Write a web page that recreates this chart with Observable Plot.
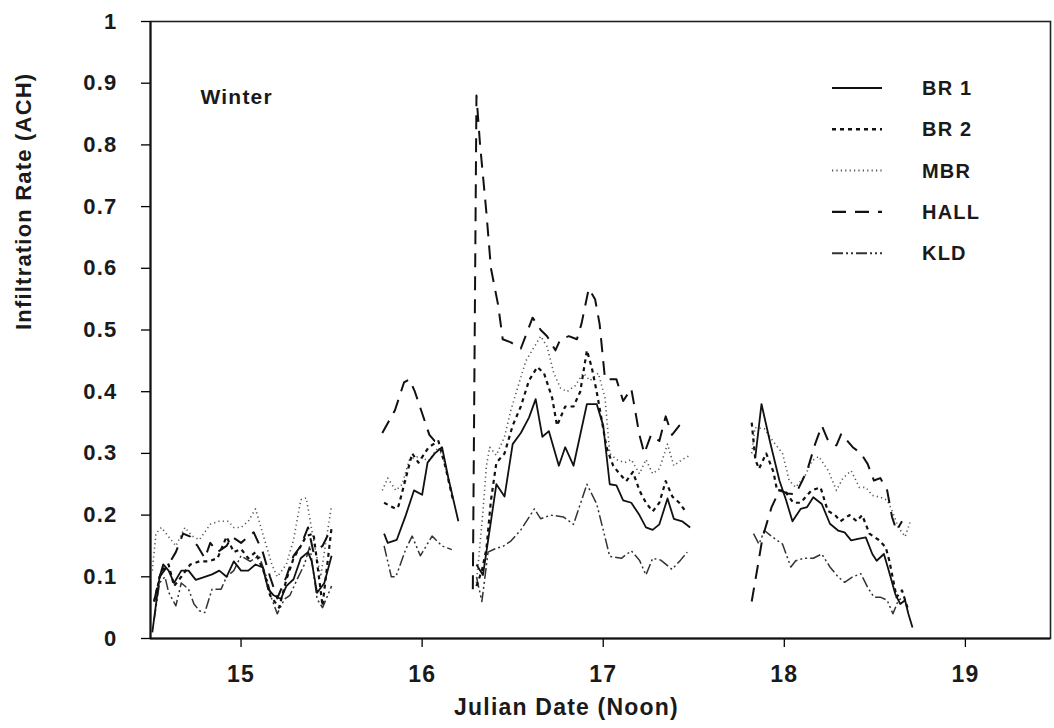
<!DOCTYPE html>
<html>
<head>
<meta charset="utf-8">
<script src="https://cdn.jsdelivr.net/npm/d3@7"></script>
<script src="https://cdn.jsdelivr.net/npm/@observablehq/plot@0.6"></script>
<style>
  html, body { margin: 0; padding: 0; background: #fff; }
  #chart svg { display: block; }
  #chart svg text { font-family: "Liberation Sans", Arial, Helvetica, sans-serif; font-weight: bold; fill: #1a1a1a; }
</style>
</head>
<body>
<div id="chart"></div>
<script>
// ---- data: [Julian date, infiltration rate (ACH)], segments separated by gaps ----
const BR1 = [
  [[14.51,0.01],[14.55,0.10],[14.57,0.12],[14.60,0.11],[14.63,0.09],[14.67,0.11],[14.71,0.11],[14.75,0.095],[14.80,0.10],[14.84,0.104],[14.88,0.11],[14.92,0.10],[14.96,0.125],[15.00,0.11],[15.04,0.11],[15.08,0.12],[15.12,0.115],[15.15,0.08],[15.18,0.07],[15.22,0.064],[15.25,0.085],[15.29,0.096],[15.33,0.13],[15.37,0.14],[15.39,0.125],[15.42,0.074],[15.46,0.09],[15.50,0.134]],
  [[15.79,0.17],[15.81,0.155],[15.86,0.16],[15.91,0.20],[15.955,0.24],[16.00,0.233],[16.03,0.285],[16.07,0.30],[16.11,0.31],[16.145,0.26],[16.20,0.19]],
  [[16.30,0.12],[16.31,0.115],[16.336,0.103],[16.373,0.176],[16.41,0.25],[16.455,0.23],[16.50,0.315],[16.545,0.333],[16.59,0.358],[16.627,0.388],[16.664,0.327],[16.70,0.336],[16.755,0.28],[16.79,0.31],[16.836,0.28],[16.91,0.38],[16.964,0.38],[17.00,0.345],[17.036,0.25],[17.073,0.248],[17.11,0.224],[17.155,0.22],[17.20,0.20],[17.236,0.18],[17.273,0.176],[17.31,0.185],[17.355,0.227],[17.39,0.194],[17.436,0.19],[17.48,0.18]],
  [[17.84,0.294],[17.874,0.38],[17.92,0.32],[17.973,0.256],[18.01,0.224],[18.045,0.19],[18.09,0.21],[18.126,0.213],[18.16,0.229],[18.207,0.218],[18.252,0.186],[18.297,0.175],[18.333,0.172],[18.369,0.159],[18.414,0.162],[18.45,0.164],[18.486,0.137],[18.51,0.126],[18.55,0.137],[18.577,0.11],[18.613,0.072],[18.64,0.056],[18.667,0.062],[18.685,0.04],[18.708,0.018]]
];
const BR2 = [
  [[14.52,0.06],[14.56,0.11],[14.60,0.12],[14.63,0.085],[14.67,0.10],[14.72,0.12],[14.77,0.125],[14.82,0.125],[14.87,0.13],[14.92,0.165],[14.96,0.14],[15.00,0.145],[15.04,0.13],[15.08,0.14],[15.13,0.105],[15.16,0.07],[15.21,0.05],[15.25,0.095],[15.29,0.13],[15.33,0.15],[15.36,0.166],[15.40,0.17],[15.43,0.10],[15.45,0.053],[15.50,0.18]],
  [[15.79,0.22],[15.855,0.21],[15.87,0.215],[15.91,0.26],[15.945,0.30],[15.98,0.285],[16.036,0.31],[16.09,0.32],[16.127,0.28],[16.17,0.225]],
  [[16.30,0.085],[16.33,0.11],[16.355,0.145],[16.38,0.224],[16.41,0.285],[16.455,0.30],[16.50,0.345],[16.545,0.376],[16.59,0.418],[16.636,0.44],[16.673,0.43],[16.718,0.39],[16.745,0.345],[16.79,0.376],[16.836,0.376],[16.873,0.40],[16.91,0.467],[16.936,0.44],[16.964,0.40],[16.99,0.357],[17.018,0.31],[17.055,0.28],[17.09,0.267],[17.127,0.255],[17.164,0.27],[17.20,0.24],[17.236,0.22],[17.273,0.206],[17.31,0.22],[17.345,0.255],[17.382,0.23],[17.42,0.22],[17.455,0.206]],
  [[17.82,0.35],[17.84,0.29],[17.86,0.275],[17.90,0.30],[17.94,0.27],[17.96,0.24],[18.00,0.24],[18.05,0.22],[18.09,0.22],[18.15,0.24],[18.20,0.245],[18.24,0.207],[18.28,0.20],[18.31,0.19],[18.36,0.20],[18.40,0.19],[18.43,0.20],[18.47,0.17],[18.52,0.16],[18.56,0.148],[18.58,0.126],[18.62,0.067],[18.65,0.078],[18.68,0.05]]
];
const MBR = [
  [[14.51,0.11],[14.53,0.17],[14.56,0.18],[14.60,0.165],[14.64,0.15],[14.69,0.18],[14.73,0.166],[14.77,0.16],[14.83,0.185],[14.88,0.19],[14.93,0.19],[14.96,0.18],[15.00,0.18],[15.04,0.19],[15.08,0.21],[15.13,0.16],[15.17,0.12],[15.20,0.10],[15.25,0.12],[15.29,0.16],[15.33,0.225],[15.36,0.228],[15.40,0.16],[15.44,0.10],[15.47,0.16],[15.50,0.215]],
  [[15.78,0.24],[15.81,0.26],[15.855,0.24],[15.89,0.25],[15.93,0.29],[15.98,0.295],[16.036,0.288],[16.09,0.31],[16.118,0.29],[16.164,0.236]],
  [[16.30,0.09],[16.336,0.206],[16.355,0.28],[16.373,0.31],[16.41,0.297],[16.455,0.327],[16.49,0.37],[16.527,0.406],[16.573,0.45],[16.62,0.473],[16.655,0.49],[16.69,0.473],[16.727,0.43],[16.764,0.406],[16.80,0.40],[16.846,0.41],[16.89,0.43],[16.927,0.418],[16.973,0.43],[17.01,0.39],[17.036,0.30],[17.073,0.29],[17.118,0.285],[17.155,0.29],[17.20,0.267],[17.236,0.29],[17.273,0.267],[17.31,0.275],[17.355,0.315],[17.39,0.28],[17.436,0.29],[17.48,0.297]],
  [[17.82,0.30],[17.838,0.342],[17.89,0.34],[17.937,0.32],[17.99,0.30],[18.027,0.256],[18.063,0.245],[18.117,0.265],[18.153,0.288],[18.19,0.295],[18.243,0.272],[18.288,0.24],[18.324,0.26],[18.369,0.272],[18.414,0.245],[18.45,0.245],[18.486,0.232],[18.53,0.229],[18.568,0.224],[18.595,0.207],[18.63,0.18],[18.667,0.165],[18.694,0.188]]
];
const HALL = [
  [[14.52,0.06],[14.55,0.10],[14.60,0.12],[14.64,0.14],[14.68,0.17],[14.72,0.165],[14.76,0.15],[14.80,0.13],[14.83,0.155],[14.87,0.14],[14.92,0.15],[14.95,0.165],[15.00,0.155],[15.04,0.165],[15.07,0.172],[15.12,0.14],[15.16,0.10],[15.20,0.065],[15.25,0.10],[15.29,0.134],[15.33,0.15],[15.37,0.18],[15.40,0.14],[15.45,0.15],[15.50,0.18]],
  [[15.78,0.333],[15.85,0.37],[15.90,0.415],[15.93,0.42],[15.96,0.40],[16.04,0.33],[16.07,0.32],[16.10,0.32]],
  [[16.28,0.08],[16.30,0.88],[16.31,0.84],[16.32,0.80],[16.336,0.75],[16.355,0.69],[16.38,0.60],[16.42,0.54],[16.445,0.485],[16.49,0.48],[16.545,0.47],[16.61,0.52],[16.655,0.50],[16.69,0.49],[16.736,0.467],[16.764,0.485],[16.81,0.49],[16.855,0.485],[16.88,0.51],[16.92,0.567],[16.955,0.55],[16.98,0.51],[17.01,0.42],[17.073,0.42],[17.11,0.385],[17.155,0.405],[17.20,0.33],[17.227,0.30],[17.264,0.33],[17.31,0.32],[17.345,0.36],[17.38,0.33],[17.42,0.345],[17.47,0.34]],
  [[17.82,0.06],[17.855,0.12],[17.88,0.164],[17.93,0.213],[17.973,0.24],[18.02,0.235],[18.063,0.234],[18.126,0.272],[18.17,0.315],[18.207,0.345],[18.243,0.32],[18.288,0.313],[18.315,0.332],[18.378,0.31],[18.423,0.30],[18.46,0.283],[18.495,0.256],[18.53,0.26],[18.568,0.24],[18.595,0.197],[18.62,0.175],[18.65,0.19]]
];
const KLD = [
  [[14.52,0.03],[14.55,0.09],[14.58,0.10],[14.60,0.075],[14.64,0.053],[14.67,0.09],[14.71,0.08],[14.74,0.056],[14.77,0.045],[14.80,0.042],[14.84,0.08],[14.89,0.08],[14.92,0.10],[14.96,0.11],[15.00,0.134],[15.05,0.125],[15.10,0.134],[15.14,0.10],[15.17,0.064],[15.20,0.04],[15.24,0.064],[15.27,0.07],[15.31,0.096],[15.35,0.12],[15.38,0.15],[15.42,0.064],[15.45,0.05],[15.50,0.085]],
  [[15.79,0.15],[15.83,0.10],[15.855,0.10],[15.91,0.145],[15.945,0.166],[15.99,0.134],[16.055,0.166],[16.11,0.15],[16.164,0.144]],
  [[16.30,0.10],[16.33,0.06],[16.364,0.14],[16.40,0.145],[16.45,0.15],[16.49,0.158],[16.545,0.176],[16.62,0.21],[16.655,0.194],[16.71,0.20],[16.78,0.197],[16.836,0.185],[16.91,0.25],[16.964,0.218],[17.00,0.176],[17.036,0.133],[17.10,0.13],[17.155,0.142],[17.20,0.127],[17.236,0.103],[17.273,0.13],[17.318,0.127],[17.38,0.112],[17.427,0.127],[17.464,0.14]],
  [[17.83,0.17],[17.86,0.153],[17.89,0.175],[17.937,0.164],[17.99,0.153],[18.036,0.116],[18.063,0.126],[18.108,0.13],[18.16,0.13],[18.207,0.137],[18.252,0.116],[18.297,0.10],[18.333,0.091],[18.378,0.10],[18.423,0.105],[18.46,0.083],[18.495,0.067],[18.53,0.067],[18.568,0.062],[18.60,0.04],[18.63,0.062],[18.658,0.067]]
];

const seriesNames = ["BR1", "BR2", "MBR", "HALL", "KLD"];
const legendLabels = ["BR 1", "BR 2", "MBR", "HALL", "KLD"];
const xTicks = [15, 16, 17, 18, 19];
const yTicks = [0, 0.1, 0.2, 0.3, 0.4, 0.5, 0.6, 0.7, 0.8, 0.9, 1];
const xTitle = "Julian Date (Noon)";
const yTitle = "Infiltration Rate (ACH)";
const panelLabel = "Winter";

// ---- styles ----
const lineStyle = {
  BR1:  {strokeWidth: 1.8, strokeDasharray: null, stroke: "#111"},
  BR2:  {strokeWidth: 2.2, strokeDasharray: "4,4", stroke: "#111"},
  MBR:  {strokeWidth: 1.6, strokeDasharray: "1.2,3.2", stroke: "#555"},
  HALL: {strokeWidth: 2.0, strokeDasharray: "14,9", stroke: "#111"},
  KLD:  {strokeWidth: 1.5, strokeDasharray: "11,3,2,3,2,3", stroke: "#333"}
};

const seriesData = {BR1, BR2, MBR, HALL, KLD};
const rows = [];
for (const name of seriesNames) {
  seriesData[name].forEach((seg, k) => {
    for (const [d, v] of seg) rows.push({series: name, seg: name + k, date: d, value: v});
  });
}

const drawOrder = ["KLD", "MBR", "BR2", "HALL", "BR1"];
const lineMarks = drawOrder.map(name => Plot.line(rows.filter(r => r.series === name), {
  x: "date", y: "value", z: "seg",
  stroke: lineStyle[name].stroke,
  strokeWidth: lineStyle[name].strokeWidth,
  strokeDasharray: lineStyle[name].strokeDasharray,
  strokeLinejoin: "round",
  strokeLinecap: "butt"
}));

function legend(index, scales, values, dims) {
  const g = d3.create("svg:g");
  const right = dims.width - dims.marginRight;
  seriesNames.forEach((name, i) => {
    const y = dims.marginTop + 67 + i * 41.3;
    const st = lineStyle[name];
    const ln = g.append("line")
      .attr("x1", right - 218).attr("x2", right - 168)
      .attr("y1", y).attr("y2", y)
      .attr("stroke", st.stroke).attr("stroke-width", st.strokeWidth + 0.4);
    if (st.strokeDasharray) ln.attr("stroke-dasharray", st.strokeDasharray);
    g.append("text")
      .attr("x", right - 128).attr("y", y).attr("dy", "0.35em")
      .attr("text-anchor", "start")
      .attr("font-size", 20)
      .text(legendLabels[i]);
  });
  return g.node();
}

const chart = Plot.plot({
  width: 1054,
  height: 728,
  marginLeft: 150,
  marginRight: 4,
  marginTop: 21,
  marginBottom: 90,
  style: {fontSize: "22px", background: "#fff", overflow: "visible"},
  x: {domain: [14.5, 19.47]},
  y: {domain: [0, 1]},
  marks: [
    Plot.frame({stroke: "#222", strokeWidth: 1.6}),
    Plot.axisX({ticks: xTicks, tickSize: 9, tickPadding: 18, label: null, fontSize: 23, fontWeight: "bold", strokeWidth: 1.3,
      tickFormat: d => String(d)}),
    Plot.axisY({ticks: yTicks, tickSize: 9, tickPadding: 24, label: null, fontSize: 22, fontWeight: "bold", strokeWidth: 1.3,
      tickFormat: d => String(+d.toFixed(1))}),
    Plot.ruleY([0], {stroke: "#111", strokeWidth: 2.2}),
    Plot.ruleX([14.5], {stroke: "#111", strokeWidth: 2}),
    ...lineMarks,
    Plot.text([xTitle], {frameAnchor: "bottom", dy: 76, dx: -34, fontSize: 23, fontWeight: "bold", text: d => d}),
    Plot.text([yTitle], {frameAnchor: "left", rotate: -90, dx: -127, fontSize: 22, fontWeight: "bold", text: d => d}),
    Plot.text([panelLabel], {frameAnchor: "top-left", dx: 50, dy: 68, textAnchor: "start", fontSize: 21, fontWeight: "bold", text: d => d}),
    legend
  ]
});

d3.select(chart).selectAll("text").attr("letter-spacing", "1.2px");
document.getElementById("chart").appendChild(chart);
</script>
</body>
</html>
